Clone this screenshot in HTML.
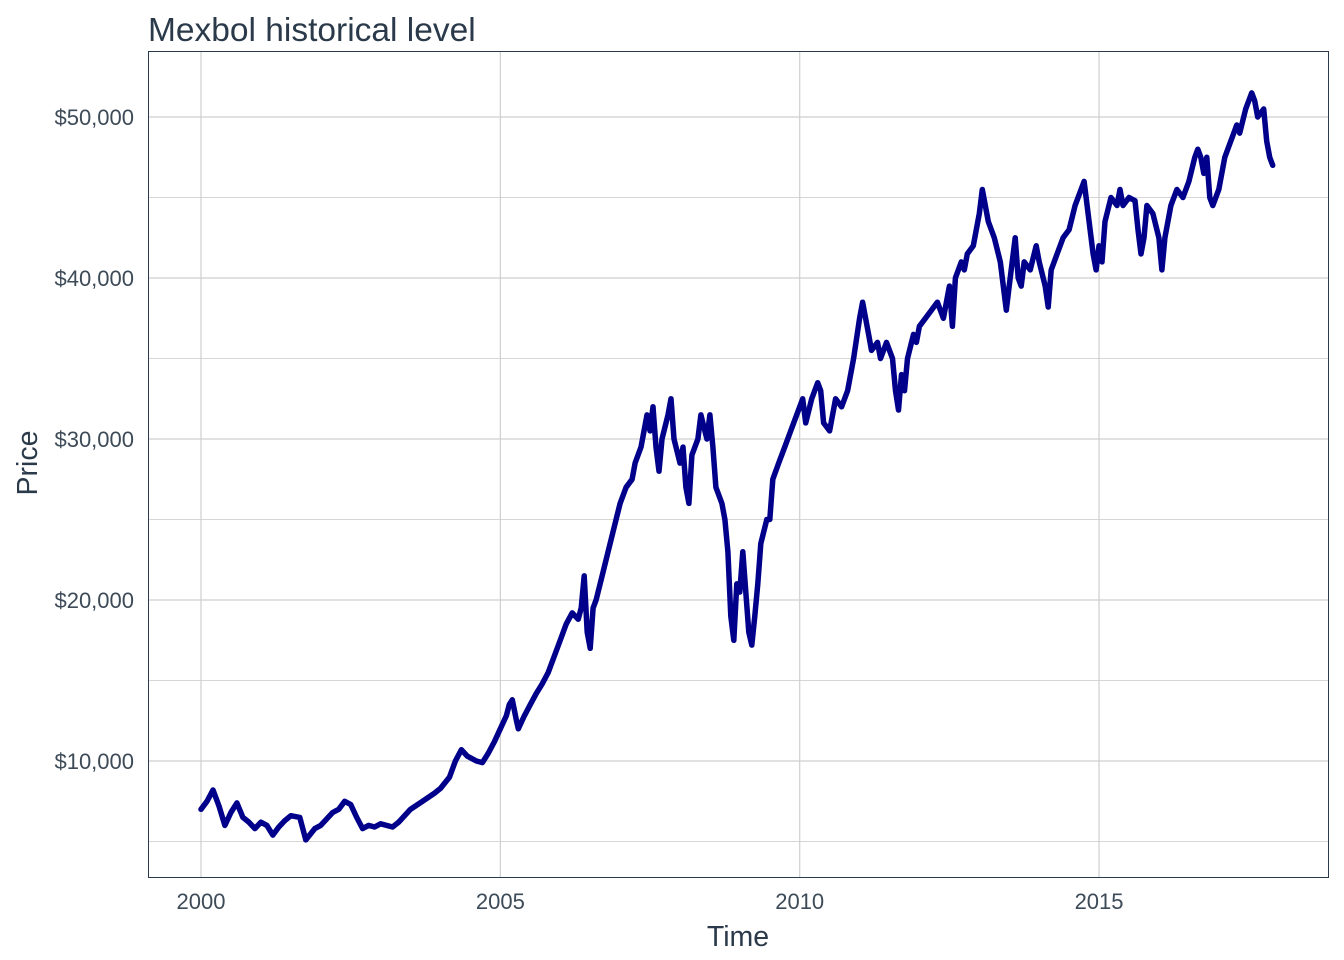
<!DOCTYPE html>
<html><head><meta charset="utf-8"><style>
body{margin:0;background:#fff;}
svg{display:block;font-family:"Liberation Sans",sans-serif;}
</style></head><body>
<svg id="chart" width="1344" height="960" viewBox="0 0 1344 960" xmlns="http://www.w3.org/2000/svg">
<text x="148" y="41" font-size="33.5" fill="#2b3a4a">Mexbol historical level</text>
<g id="grid"></g>
<rect x="148.5" y="51.5" width="1180" height="826" fill="none" stroke="#2b3a4a" stroke-width="1"/>
<g id="series"></g>
<g id="axes"></g>
<text x="738" y="946" font-size="28.5" text-anchor="middle" fill="#2b3a4a">Time</text>
<text x="37" y="463" font-size="28.5" text-anchor="middle" fill="#2b3a4a" transform="rotate(-90 37 463)">Price</text>
</svg>
<script>
const years=[2000.0,2000.1,2000.2,2000.3,2000.4,2000.5,2000.6,2000.7,2000.8,2000.9,2001.0,2001.1,2001.2,2001.3,2001.4,2001.5,2001.65,2001.75,2001.9,2002.0,2002.2,2002.3,2002.4,2002.5,2002.6,2002.7,2002.8,2002.9,2003.0,2003.2,2003.3,2003.5,2003.7,2003.9,2004.0,2004.15,2004.25,2004.35,2004.45,2004.6,2004.7,2004.8,2004.9,2005.0,2005.1,2005.15,2005.2,2005.27,2005.3,2005.4,2005.5,2005.6,2005.7,2005.8,2005.9,2006.0,2006.1,2006.2,2006.3,2006.35,2006.4,2006.45,2006.5,2006.55,2006.6,2006.7,2006.8,2006.9,2007.0,2007.1,2007.2,2007.25,2007.35,2007.45,2007.5,2007.55,2007.6,2007.65,2007.7,2007.8,2007.85,2007.9,2008.0,2008.05,2008.1,2008.15,2008.2,2008.3,2008.35,2008.45,2008.5,2008.55,2008.6,2008.7,2008.75,2008.8,2008.85,2008.9,2008.95,2009.0,2009.05,2009.1,2009.15,2009.2,2009.25,2009.3,2009.35,2009.45,2009.5,2009.55,2009.65,2009.75,2009.85,2009.95,2010.05,2010.1,2010.2,2010.3,2010.35,2010.4,2010.5,2010.6,2010.7,2010.8,2010.9,2011.0,2011.05,2011.15,2011.2,2011.3,2011.35,2011.45,2011.55,2011.6,2011.65,2011.7,2011.75,2011.8,2011.9,2011.95,2012.0,2012.1,2012.2,2012.3,2012.4,2012.5,2012.55,2012.6,2012.7,2012.75,2012.8,2012.9,2013.0,2013.05,2013.1,2013.15,2013.25,2013.35,2013.45,2013.5,2013.55,2013.6,2013.65,2013.7,2013.75,2013.85,2013.95,2014.0,2014.1,2014.15,2014.2,2014.3,2014.4,2014.5,2014.6,2014.7,2014.75,2014.8,2014.85,2014.9,2014.95,2015.0,2015.05,2015.1,2015.2,2015.3,2015.35,2015.4,2015.5,2015.6,2015.65,2015.7,2015.75,2015.8,2015.9,2016.0,2016.05,2016.1,2016.15,2016.2,2016.3,2016.4,2016.5,2016.6,2016.65,2016.7,2016.75,2016.8,2016.85,2016.9,2017.0,2017.05,2017.1,2017.2,2017.3,2017.35,2017.45,2017.55,2017.6,2017.65,2017.75,2017.8,2017.85,2017.9];
const prices=[7000,7500,8200,7200,6000,6800,7400,6500,6200,5800,6200,6000,5400,5900,6300,6600,6500,5100,5800,6000,6800,7000,7500,7300,6500,5800,6000,5900,6100,5900,6200,7000,7500,8000,8300,9000,10000,10700,10300,10000,9900,10500,11200,12000,12800,13500,13800,12500,12000,12800,13500,14200,14800,15500,16500,17500,18500,19200,18800,19500,21500,18000,17000,19500,20000,21500,23000,24500,26000,27000,27500,28500,29500,31500,30500,32000,29500,28000,30000,31500,32500,30000,28500,29500,27000,26000,29000,30000,31500,30000,31500,29500,27000,26000,25000,23000,19000,17500,21000,20500,23000,20500,18000,17200,19000,21000,23500,25000,25000,27500,28500,29500,30500,31500,32500,31000,32500,33500,33000,31000,30500,32500,32000,33000,35000,37500,38500,36500,35500,36000,35000,36000,35000,33000,31800,34000,33000,35000,36500,36000,37000,37500,38000,38500,37500,39500,37000,40000,41000,40500,41500,42000,44000,45500,44500,43500,42500,41000,38000,39500,41000,42500,40000,39500,41000,40500,42000,41000,39500,38200,40500,41500,42500,43000,44500,45500,46000,44500,43000,41500,40500,42000,41000,43500,45000,44500,45500,44500,45000,44800,43000,41500,42500,44500,44000,42500,40500,42500,43500,44500,45500,45000,46000,47500,48000,47500,46500,47500,45000,44500,45500,46500,47500,48500,49500,49000,50500,51500,51000,50000,50500,48500,47500,47000];
const xTicks=[2000,2005,2010,2015];
const yTicks=[10000,20000,30000,40000,50000];
const yMinor=[5000,15000,25000,35000,45000];
const NS="http://www.w3.org/2000/svg";
function xs(v){return 201+(v-2000)*59.87;}
function ys(v){return 761-(v-10000)*0.01610;}
function mk(tag,attrs,parent){const e=document.createElementNS(NS,tag);for(const k in attrs)e.setAttribute(k,attrs[k]);parent.appendChild(e);return e;}
const grid=document.getElementById('grid'),axes=document.getElementById('axes'),series=document.getElementById('series');
yMinor.forEach(v=>{const l=mk('line',{x1:148,x2:1328,y1:ys(v),y2:ys(v),stroke:'#d6d6d6','stroke-width':1},grid);

});
yTicks.forEach(v=>{const l=mk('line',{x1:148,x2:1328,y1:ys(v),y2:ys(v),stroke:'#cfcfcf','stroke-width':1.2},grid);


const t=mk('text',{x:134,y:ys(v)+8,'font-size':22,'text-anchor':'end',fill:'#3d4a57'},axes);
t.textContent='$'+v.toLocaleString('en-US');

});
xTicks.forEach(v=>{const l=mk('line',{x1:xs(v),x2:xs(v),y1:51,y2:877,stroke:'#cfcfcf','stroke-width':1.2},grid);


const t=mk('text',{x:xs(v),y:909,'font-size':22,'text-anchor':'middle',fill:'#3d4a57'},axes);
t.textContent=v;

});
let d='';years.forEach((y,i)=>{d+=(i?'L':'M')+xs(y).toFixed(1)+','+ys(prices[i]).toFixed(1);});
const p=mk('path',{d:d,fill:'none',stroke:'#00008b','stroke-width':5.5,'stroke-linejoin':'round','stroke-linecap':'round'},series);


</script>
</body></html>
